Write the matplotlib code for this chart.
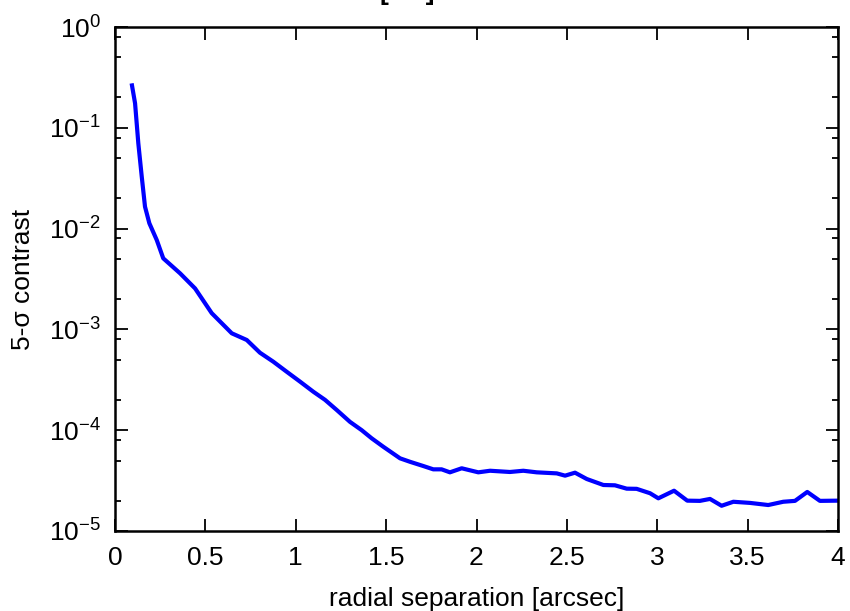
import matplotlib
matplotlib.use("Agg")
import matplotlib.pyplot as plt
from matplotlib.ticker import LogLocator, FixedLocator, NullFormatter

# ---- data ----
separation = [0.092, 0.111, 0.129, 0.148, 0.166, 0.190, 0.231, 0.267, 0.360, 0.443,
              0.535, 0.646, 0.729, 0.802, 0.876, 0.950, 1.024, 1.097, 1.162, 1.227,
              1.300, 1.365, 1.420, 1.484, 1.577, 1.632, 1.706, 1.761, 1.807, 1.853,
              1.918, 2.010, 2.075, 2.185, 2.259, 2.333, 2.444, 2.490, 2.545, 2.610,
              2.702, 2.766, 2.831, 2.886, 2.960, 3.006, 3.093, 3.166, 3.236, 3.292,
              3.356, 3.421, 3.513, 3.614, 3.697, 3.762, 3.830, 3.900, 4.0]
contrast = [0.276, 0.175, 0.0702, 0.0327, 0.0165, 0.0113, 0.0077, 0.00507, 0.00360, 0.00255,
            0.00145, 9.15e-4, 7.85e-4, 5.87e-4, 4.78e-4, 3.80e-4, 3.03e-4, 2.41e-4, 2.00e-4, 1.585e-4,
            1.21e-4, 1.00e-4, 8.31e-5, 6.86e-5, 5.26e-5, 4.86e-5, 4.41e-5, 4.09e-5, 4.09e-5, 3.82e-5,
            4.19e-5, 3.82e-5, 3.96e-5, 3.85e-5, 3.96e-5, 3.82e-5, 3.73e-5, 3.54e-5, 3.79e-5, 3.28e-5,
            2.86e-5, 2.84e-5, 2.63e-5, 2.62e-5, 2.37e-5, 2.11e-5, 2.51e-5, 2.00e-5, 1.99e-5, 2.08e-5,
            1.78e-5, 1.95e-5, 1.90e-5, 1.81e-5, 1.95e-5, 1.99e-5, 2.44e-5, 1.99e-5, 2.00e-5]
x_ticks = [0, 0.5, 1, 1.5, 2, 2.5, 3, 3.5, 4]
x_tick_labels = ["0", "0.5", "1", "1.5", "2", "2.5", "3", "3.5", "4"]
y_exponents = [-5, -4, -3, -2, -1, 0]
x_label = "radial separation [arcsec]"
y_label = "5-σ contrast"

plt.rcParams["font.family"] = ["Liberation Sans", "DejaVu Sans"]
plt.rcParams["mathtext.fontset"] = "custom"
plt.rcParams["mathtext.rm"] = "Liberation Sans"
plt.rcParams["mathtext.it"] = "Liberation Sans"
plt.rcParams["mathtext.bf"] = "Liberation Sans:bold"

fig = plt.figure(figsize=(8.5, 6.11), dpi=100)
ax = fig.add_axes([115/850, 80/611, (838-115)/850, (531-27)/611])

ax.plot(separation, contrast, color="#0000ff", lw=3.0,
        solid_joinstyle="round", solid_capstyle="butt")

ax.set_yscale("log")
ax.set_xlim(0, 4)
ax.set_ylim(1e-5, 1e0)

ax.xaxis.set_major_locator(FixedLocator(x_ticks))
ax.set_xticklabels(x_tick_labels)
ax.yaxis.set_major_locator(FixedLocator([10.0**e for e in y_exponents]))
ax.set_yticklabels([r"$\mathregular{10^{%d}}$" % e for e in y_exponents])
ax.yaxis.set_minor_locator(LogLocator(base=10, subs=[2, 5, 8]))
ax.yaxis.set_minor_formatter(NullFormatter())
ax.xaxis.set_minor_locator(FixedLocator([]))

ax.tick_params(which="both", direction="in", top=True, right=True, width=1.3, colors="black")
ax.tick_params(which="major", length=9, labelsize=19)
ax.tick_params(axis="x", which="major", pad=11)
ax.tick_params(axis="y", which="major", pad=10)
ax.tick_params(which="minor", length=4.5)
for s in ax.spines.values():
    s.set_linewidth(1.8)

ax.set_xlabel(x_label, fontsize=19, labelpad=12)
ax.set_ylabel(y_label, fontsize=19, labelpad=10)

# partially visible title at top edge (cut off in the reference)
fig.text(407/850, 1 - 5/611, "[     ]", fontsize=19, fontweight="bold",
         ha="center", va="bottom")

fig.savefig("out.png", dpi=100)
